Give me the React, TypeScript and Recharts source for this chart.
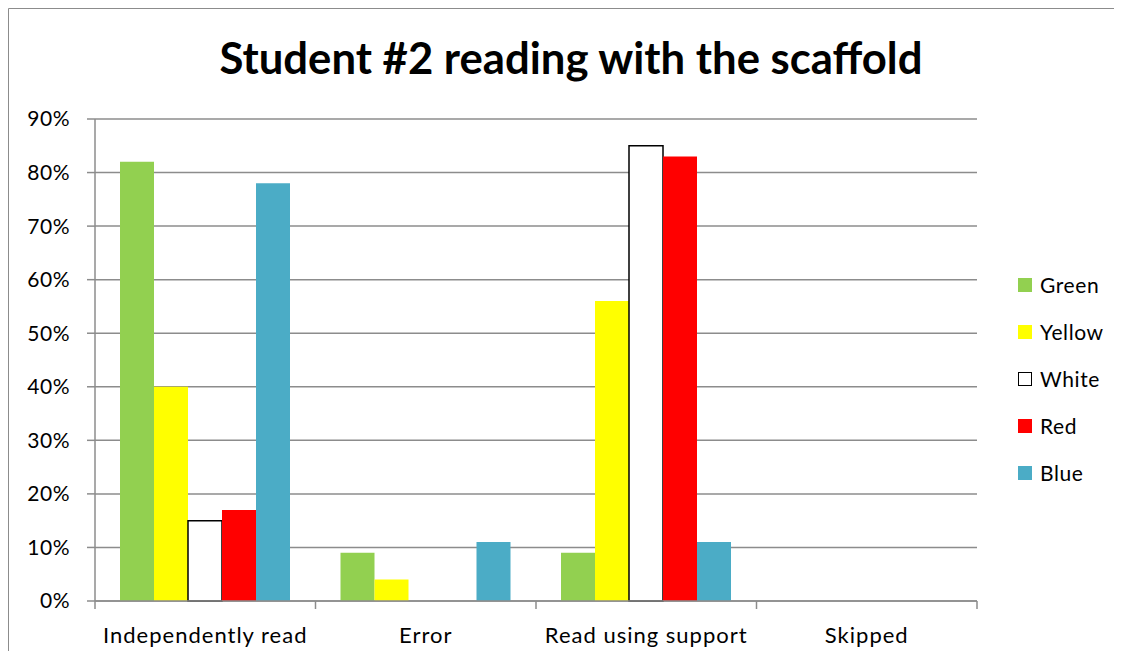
import { BarChart, Bar, XAxis, YAxis, CartesianGrid } from 'recharts'

const categories = ['Independently read', 'Error', 'Read using support', 'Skipped']
const green = [82, 9, 9, 0]
const yellow = [40, 4, 56, 0]
const white = [15, 0, 85, 0]
const red = [17, 0, 83, 0]
const blue = [78, 11, 11, 0]
const yTicks = [0, 10, 20, 30, 40, 50, 60, 70, 80, 90]

const series = [
  { name: 'Green', values: green, fill: '#92d050', stroke: 'none' },
  { name: 'Yellow', values: yellow, fill: '#ffff00', stroke: 'none' },
  { name: 'White', values: white, fill: '#ffffff', stroke: '#000000' },
  { name: 'Red', values: red, fill: '#ff0000', stroke: 'none' },
  { name: 'Blue', values: blue, fill: '#4bacc6', stroke: 'none' },
]

const data = categories.map((name, i) => {
  const row: Record<string, string | number> = { name }
  series.forEach((s) => {
    row[s.name] = s.values[i]
  })
  return row
})

const FONT = 'Lato, Carlito, Calibri, sans-serif'
const AXIS = '#8c8c8c'
const WIDTH = 1113
const HEIGHT = 642
const MARGIN = { top: 110, right: 145, left: 16, bottom: 0 }
const Y_AXIS_W = 70
const PLOT_W = WIDTH - MARGIN.left - MARGIN.right - Y_AXIS_W
const HALF_BAND = PLOT_W / categories.length / 2

interface TickProps {
  x?: number
  y?: number
  index?: number
  payload?: { value: string }
}

// category label centred in its band, tick marks on the band edges
function CategoryTick({ x = 0, y = 0, index = 0, payload }: TickProps) {
  const last = index === categories.length - 1
  return (
    <g>
      <line x1={x - HALF_BAND} x2={x - HALF_BAND} y1={y - 8} y2={y} stroke={AXIS} strokeWidth={1.5} />
      {last && (
        <line x1={x + HALF_BAND} x2={x + HALF_BAND} y1={y - 8} y2={y} stroke={AXIS} strokeWidth={1.5} />
      )}
      <text
        x={x}
        y={y + 25}
        textAnchor="middle"
        dominantBaseline="central"
        fill="#000"
        fontSize={22}
        letterSpacing={1}
        fontFamily={FONT}
      >
        {payload?.value}
      </text>
    </g>
  )
}

function LegendList() {
  return (
    <div
      style={{
        position: 'absolute',
        left: 1010,
        top: 253,
        fontFamily: FONT,
        fontSize: 21,
        letterSpacing: 0.6,
        color: '#000',
      }}
    >
      {series.map((s) => (
        <div key={s.name} style={{ display: 'flex', alignItems: 'center', height: 47 }}>
          <span
            style={{
              display: 'inline-block',
              width: s.stroke === 'none' ? 14 : 12,
              height: s.stroke === 'none' ? 14 : 12,
              background: s.fill,
              border: s.stroke === 'none' ? 'none' : `1.5px solid ${s.stroke}`,
              marginRight: 8,
            }}
          />
          <span>{s.name}</span>
        </div>
      ))}
    </div>
  )
}

export default function App() {
  return (
    <div
      style={{
        position: 'relative',
        width: WIDTH + 1,
        height: HEIGHT + 1,
        fontFamily: FONT,
        background: '#fff',
        overflow: 'hidden',
      }}
    >
      {/* chart frame (left and top edges) and title */}
      <svg width={WIDTH + 1} height={HEIGHT + 1} style={{ position: 'absolute', left: 0, top: 0 }}>
        <path d={`M0.5 ${HEIGHT + 1} V0.5 H${WIDTH + 1}`} fill="none" stroke={AXIS} strokeWidth={1} />
        <text
          x={563}
          y={66}
          textAnchor="middle"
          fontFamily={FONT}
          fontWeight="bold"
          fontSize={44}
          textLength={703}
          lengthAdjust="spacingAndGlyphs"
          fill="#000"
        >
          Student #2 reading with the scaffold
        </text>
      </svg>
      <div style={{ position: 'absolute', left: 1, top: 1 }}>
        <BarChart width={WIDTH} height={HEIGHT} data={data} margin={MARGIN} barGap={0} barSize={34}>
          <CartesianGrid vertical={false} stroke={AXIS} strokeWidth={1.5} />
          <XAxis
            dataKey="name"
            height={50}
            axisLine={{ stroke: AXIS, strokeWidth: 1.5 }}
            tickLine={false}
            tick={<CategoryTick />}
            interval={0}
          />
          <YAxis
            width={Y_AXIS_W}
            domain={[0, 90]}
            ticks={yTicks}
            tickFormatter={(v: number) => `${v}%`}
            axisLine={{ stroke: AXIS, strokeWidth: 1.5 }}
            tickLine={{ stroke: AXIS, strokeWidth: 1.5 }}
            tickSize={8}
            tickMargin={17}
            tick={{ fill: '#000', fontSize: 21, fontFamily: FONT, letterSpacing: 0.5 }}
          />
          {series.map((s) => (
            <Bar
              key={s.name}
              dataKey={s.name}
              fill={s.fill}
              stroke={s.stroke}
              strokeWidth={s.stroke === 'none' ? 0 : 1.5}
              isAnimationActive={false}
            />
          ))}
        </BarChart>
      </div>
      <LegendList />
    </div>
  )
}
